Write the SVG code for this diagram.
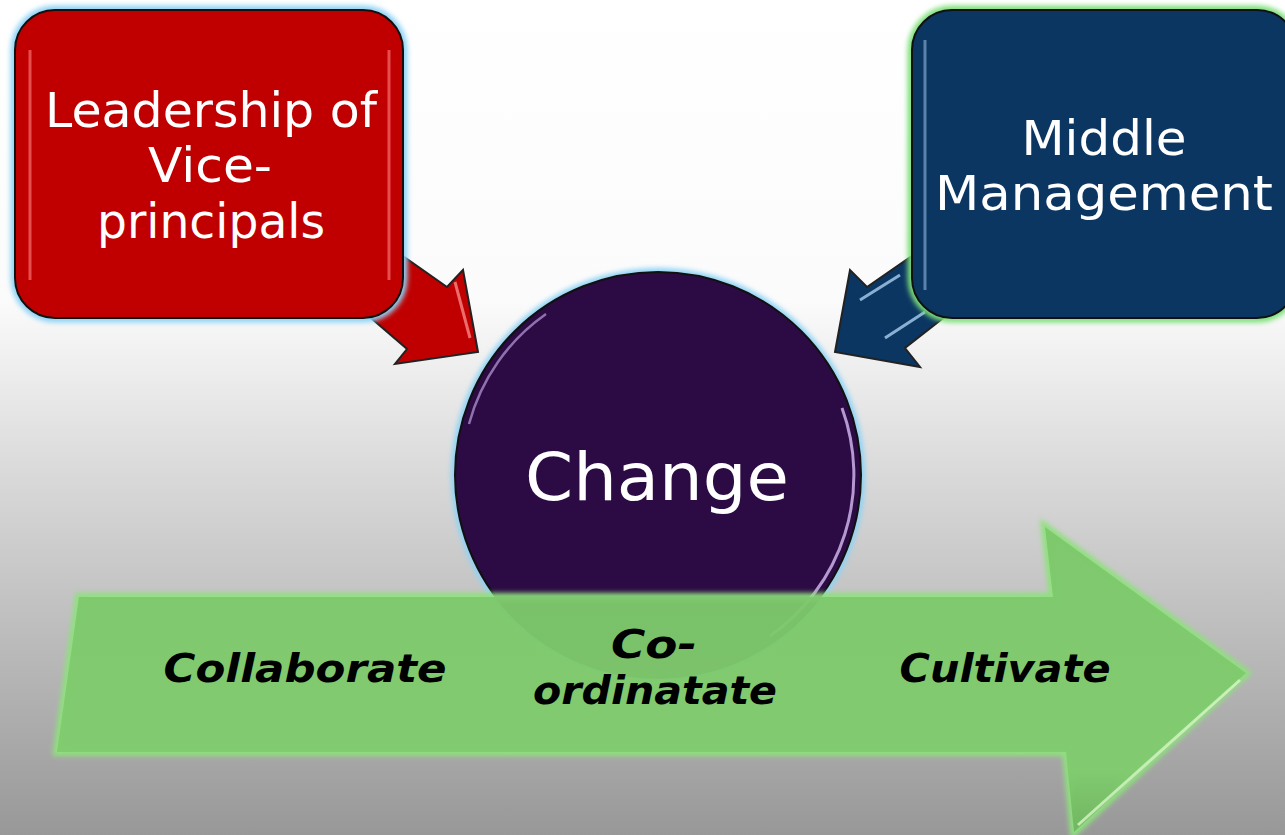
<svg xmlns="http://www.w3.org/2000/svg" width="1285" height="835" viewBox="0 0 1285 835">
<defs>
<linearGradient id="bg" x1="0" y1="0" x2="0" y2="1">
<stop offset="0" stop-color="#ffffff"/>
<stop offset="0.36" stop-color="#fbfbfb"/>
<stop offset="0.55" stop-color="#dcdcdc"/>
<stop offset="1" stop-color="#989898"/>
</linearGradient>
<linearGradient id="greenG" x1="0" y1="0" x2="0" y2="1">
<stop offset="0" stop-color="#7cc86a"/>
<stop offset="0.8" stop-color="#80cc6e"/>
<stop offset="1" stop-color="#6fb65f"/>
</linearGradient>
<filter id="glow" x="-10%" y="-10%" width="120%" height="120%">
<feGaussianBlur stdDeviation="2.5"/>
</filter>
<style>
.wt{font-family:"DejaVu Sans","Liberation Sans",sans-serif;fill:#ffffff;font-size:48px}
.bt{font-family:"DejaVu Sans","Liberation Sans",sans-serif;fill:#000000;font-size:39px;font-weight:bold;font-style:italic}
</style>
</defs>
<rect width="1285" height="835" fill="url(#bg)"/>

<g id="connectors">
<g id="arrow-red">
<polygon points="380,240 447,287 463,270 478,352 395,364 407,349 350,300" fill="#c00000" stroke="#222" stroke-width="2"/>
<path d="M455,282 L470,338" stroke="#ff9a9a" stroke-width="3" fill="none" opacity="0.7"/>
</g>
<g id="arrow-blue">
<polygon points="935,240 867,287 850,270 835,352 920,367 905,348 960,305" fill="#0b3661" stroke="#222" stroke-width="2"/>
<path d="M860,300 L900,275 M885,338 L925,312" stroke="#a9d0f0" stroke-width="3" fill="none" opacity="0.8"/>
</g>
</g>

<g id="node-leadership">
<rect x="15" y="10" width="388" height="308" rx="40" fill="none" stroke="#8fd3f5" stroke-width="9" filter="url(#glow)"/>
<rect x="15" y="10" width="388" height="308" rx="40" fill="#c00000" stroke="#111" stroke-width="2"/>
<path d="M30,50 L30,280 M389,50 L389,280" stroke="#ff8080" stroke-width="3" opacity="0.6" fill="none"/>
<text class="wt" x="211" y="127" text-anchor="middle" textLength="332" lengthAdjust="spacingAndGlyphs">Leadership of</text>
<text class="wt" x="210" y="182" text-anchor="middle" textLength="124" lengthAdjust="spacingAndGlyphs">Vice-</text>
<text class="wt" x="211" y="238" text-anchor="middle" textLength="228" lengthAdjust="spacingAndGlyphs">principals</text>
</g>

<g id="node-middle">
<rect x="912" y="10" width="385" height="308" rx="40" fill="none" stroke="#7ee07a" stroke-width="9" filter="url(#glow)"/>
<rect x="912" y="10" width="385" height="308" rx="40" fill="#0b3661" stroke="#111" stroke-width="2"/>
<path d="M925,40 L925,290" stroke="#8fb6de" stroke-width="3" opacity="0.6" fill="none"/>
<text class="wt" x="1104" y="155" text-anchor="middle" textLength="165" lengthAdjust="spacingAndGlyphs">Middle</text>
<text class="wt" x="1104" y="210" text-anchor="middle" textLength="338" lengthAdjust="spacingAndGlyphs">Management</text>
</g>

<g id="node-change">
<circle cx="658" cy="475" r="203" fill="none" stroke="#8fd3f5" stroke-width="8" filter="url(#glow)"/>
<circle cx="658" cy="475" r="203" fill="#2c0a44" stroke="#111" stroke-width="2"/>
<path d="M469,424 A196,196 0 0 1 546,314" stroke="#a98bc8" stroke-width="2.5" fill="none" opacity="0.8"/>
<path d="M842,408 A196,196 0 0 1 770,636" stroke="#c2a8e0" stroke-width="3" fill="none" opacity="0.9"/>
<text x="657" y="500" text-anchor="middle" font-family="DejaVu Sans, Liberation Sans, sans-serif" font-size="66" fill="#ffffff" textLength="264" lengthAdjust="spacingAndGlyphs">Change</text>
</g>

<g id="node-process-arrow">
<polygon points="79,597 1053,597 1045,527 1246,673 1074,832 1066,752 57,752" fill="none" stroke="#8fe07e" stroke-width="8" filter="url(#glow)"/>
<polygon points="79,597 1053,597 1045,527 1246,673 1074,832 1066,752 57,752" fill="url(#greenG)" fill-opacity="0.96"/>
<path d="M1240,680 L1078,825" stroke="#d8f5c8" stroke-width="3" fill="none" opacity="0.8"/>
<text class="bt" x="305" y="682" text-anchor="middle" textLength="283" lengthAdjust="spacingAndGlyphs">Collaborate</text>
<text class="bt" x="654" y="658" text-anchor="middle" textLength="86" lengthAdjust="spacingAndGlyphs">Co-</text>
<text class="bt" x="655" y="704" text-anchor="middle" textLength="244" lengthAdjust="spacingAndGlyphs">ordinatate</text>
<text class="bt" x="1005" y="682" text-anchor="middle" textLength="211" lengthAdjust="spacingAndGlyphs">Cultivate</text>
</g>
</svg>
